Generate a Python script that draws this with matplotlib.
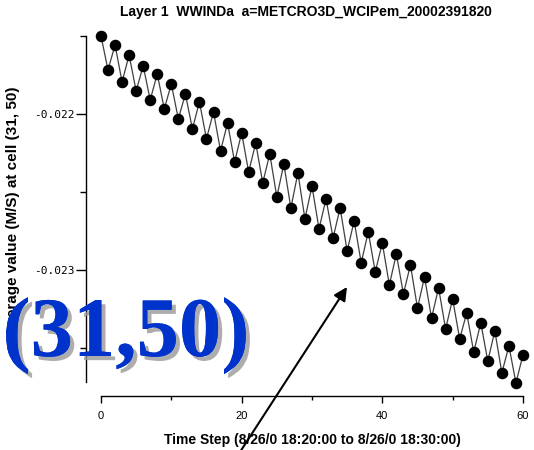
import matplotlib
matplotlib.use("Agg")
import matplotlib.pyplot as plt
import matplotlib.patheffects as pe
from matplotlib.ticker import FixedLocator, FormatStrFormatter

plt.rcParams["axes.unicode_minus"] = False

# time steps 0..60 and the cell value
steps = list(range(61))
values = [
    -0.021500, -0.021718, -0.021558, -0.021795, -0.021622, -0.021853,
    -0.021692, -0.021910, -0.021744, -0.021968, -0.021808, -0.022032,
    -0.021872, -0.022096, -0.021923, -0.022160, -0.021987, -0.022237,
    -0.022058, -0.022308, -0.022122, -0.022372, -0.022186, -0.022442,
    -0.022256, -0.022532, -0.022321, -0.022603, -0.022378, -0.022673,
    -0.022462, -0.022737, -0.022545, -0.022795, -0.022603, -0.022878,
    -0.022686, -0.022955, -0.022756, -0.023013, -0.022827, -0.023096,
    -0.022897, -0.023154, -0.022968, -0.023244, -0.023045, -0.023308,
    -0.023115, -0.023378, -0.023186, -0.023442, -0.023276, -0.023526,
    -0.023340, -0.023583, -0.023391, -0.023660, -0.023487, -0.023724,
    -0.023545,
]
y_major = [-0.023, -0.022]
y_minor = [-0.0235, -0.0225, -0.0215]
x_major = [0, 20, 40, 60]
x_minor = [10, 30, 50]

W, H = 534, 450
fig = plt.figure(figsize=(W / 100, H / 100), dpi=100)
ax = fig.add_axes([86 / W, 1 - 396 / H, 444 / W, 366 / H])

ax.plot(steps, values, color="#404040", lw=0.9, marker="o", ms=7.3,
        mfc="black", mec="black", clip_on=False)

ax.set_xlim(-2.13, 61.0)
ax.set_ylim(-0.023808, -0.021462)

for side in ("top", "right"):
    ax.spines[side].set_visible(False)
ax.spines["bottom"].set_bounds(0, 60)
ax.spines["left"].set_bounds(-0.02372, -0.0215)
ax.spines["bottom"].set_linewidth(1.0)
ax.spines["left"].set_linewidth(1.0)

ax.xaxis.set_major_locator(FixedLocator(x_major))
ax.xaxis.set_minor_locator(FixedLocator(x_minor))
ax.yaxis.set_major_locator(FixedLocator(y_major))
ax.yaxis.set_minor_locator(FixedLocator(y_minor))
ax.yaxis.set_major_formatter(FormatStrFormatter("%.3f"))

ax.tick_params(axis="x", which="major", length=5, width=1, pad=6,
               labelsize=8)
ax.tick_params(axis="x", which="minor", length=3, width=1)
ax.tick_params(axis="y", which="major", length=7, width=1, pad=1.5,
               labelsize=8)
ax.tick_params(axis="y", which="minor", length=4, width=1)
for lab in ax.get_yticklabels():
    lab.set_family("DejaVu Sans Mono")
for lab in ax.get_xticklabels():
    lab.set_family("Liberation Sans")

fig.text(306 / W, 1 - 12 / H,
         "Layer 1  WWINDa  a=METCRO3D_WCIPem_20002391820",
         ha="center", va="center", fontsize=10, fontweight="bold",
         family="Liberation Sans")
fig.text(312 / W, 1 - 440 / H,
         "Time Step (8/26/0 18:20:00 to 8/26/0 18:30:00)",
         ha="center", va="center", fontsize=10, fontweight="bold",
         family="Liberation Sans")
fig.text(13 / W, 1 - 211 / H, "Average value (M/S) at cell (31, 50)",
         ha="center", va="center", rotation=90, fontsize=11,
         fontweight="bold", family="Liberation Sans")

big = fig.text(126 / W, 1 - 356 / H, "(31,50)", ha="center", va="baseline",
               fontsize=61, fontweight="bold", family="Liberation Serif",
               color="#0033cc", zorder=10)
big.set_path_effects([pe.withSimplePatchShadow(offset=(3, -3),
                                               shadow_rgbFace="#999999",
                                               alpha=0.8),
                      pe.Normal()])

ax.annotate("", xy=(347 / W, 1 - 287 / H), xytext=(240 / W, 1 - 452 / H),
            xycoords="figure fraction", textcoords="figure fraction",
            arrowprops=dict(arrowstyle="-|>", color="black", lw=1.5,
                            mutation_scale=20, shrinkA=0, shrinkB=0),
            annotation_clip=False, zorder=11)

fig.savefig("out.png", dpi=100)
